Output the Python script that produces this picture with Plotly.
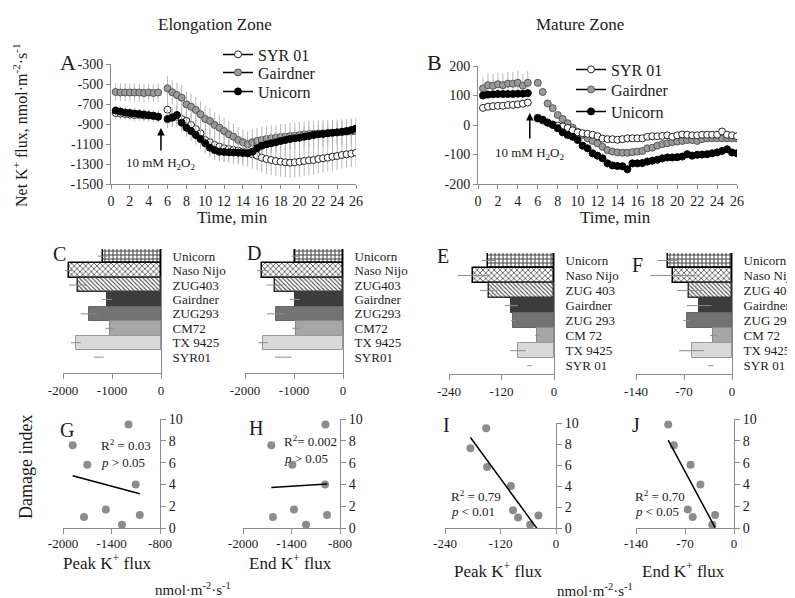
import plotly.graph_objects as go
import numpy as np

# window 795x598; the page body has an 8 px margin, so the figure is 787x590 offset by 8 px
OFF = 8
FW, FH = 795 - OFF, 598 - OFF
FONT = "Liberation Serif"
AX = "#8c8c8c"
TXT = "#1a1a1a"

# ---------------- time-course data (panels A, B) ----------------
time_min = [0.5, 1.0, 1.5, 2.0, 2.5, 3.0, 3.5, 4.0, 4.5, 5.0,
            6.0, 6.5, 7.0, 7.5, 8.0, 8.5, 9.0, 9.5, 10.0, 10.5,
            11.0, 11.5, 12.0, 12.5, 13.0, 13.5, 14.0, 14.5, 15.0, 15.5,
            16.0, 16.5, 17.0, 17.5, 18.0, 18.5, 19.0, 19.5, 20.0, 20.5,
            21.0, 21.5, 22.0, 22.5, 23.0, 23.5, 24.0, 24.5, 25.0, 25.5, 26.0]

ez_syr01 = [-790, -795, -800, -805, -810, -810, -815, -815, -820, -825,
            -757, -830, -827, -850, -870, -910, -950, -993, -1060, -1083,
            -1110, -1127, -1143, -1150, -1160, -1167, -1177, -1183, -1203, -1217,
            -1237, -1250, -1260, -1270, -1277, -1283, -1287, -1283, -1277, -1270,
            -1263, -1260, -1250, -1243, -1237, -1227, -1220, -1210, -1203, -1197, -1187]
ez_syr01_err = [60, 60, 60, 60, 60, 60, 60, 60, 60, 60,
                100, 100, 100, 105, 105, 110, 110, 115, 120, 125,
                130, 130, 135, 135, 140, 140, 140, 145, 145, 145,
                150, 150, 150, 150, 150, 150, 150, 150, 150, 150,
                150, 145, 145, 145, 140, 140, 140, 135, 135, 135, 130]
ez_gairdner = [-580, -585, -585, -585, -585, -585, -590, -585, -590, -585,
               -543, -583, -610, -637, -703, -727, -760, -803, -850, -870,
               -910, -937, -970, -1003, -1027, -1060, -1083, -1103, -1083, -1070,
               -1060, -1050, -1043, -1037, -1030, -1027, -1020, -1017, -1010, -1003,
               -1000, -998, -995, -993, -990, -988, -985, -982, -978, -975, -972]
ez_gairdner_err = [90, 90, 90, 90, 90, 90, 90, 90, 90, 90,
                   120, 120, 125, 125, 125, 130, 130, 130, 130, 130,
                   130, 130, 130, 130, 130, 130, 130, 130, 130, 130,
                   130, 130, 130, 130, 130, 130, 130, 130, 130, 130,
                   130, 130, 130, 130, 130, 130, 130, 130, 130, 130, 130]
ez_unicorn = [-765, -775, -785, -790, -795, -800, -805, -812, -818, -828,
              -850, -837, -810, -887, -937, -970, -1010, -1050, -1093, -1137,
              -1160, -1177, -1180, -1183, -1185, -1187, -1190, -1193, -1177, -1143,
              -1117, -1103, -1093, -1083, -1070, -1060, -1050, -1043, -1037, -1027,
              -1020, -1010, -1003, -1000, -993, -987, -983, -977, -970, -960, -945]
ez_unicorn_err = [50, 50, 50, 50, 50, 50, 50, 50, 50, 50,
                  90, 90, 90, 95, 95, 100, 100, 100, 100, 100,
                  100, 100, 100, 100, 100, 100, 100, 100, 100, 100,
                  100, 100, 100, 100, 100, 100, 100, 100, 100, 100,
                  100, 100, 100, 100, 100, 100, 100, 100, 100, 100, 100]

mz_syr01 = [58, 62, 64, 65, 65, 68, 68, 70, 72, 76,
            25, 15, 8, 2, -2, -5, -10, -18, -25, -28,
            -30, -33, -38, -46, -48, -48, -50, -48, -45, -45,
            -45, -45, -40, -38, -38, -37, -35, -40, -35, -32,
            -33, -35, -35, -33, -33, -33, -33, -22, -33, -35, -38]
mz_syr01_err = [8, 8, 8, 8, 8, 8, 8, 8, 8, 8,
                8, 8, 8, 8, 8, 8, 8, 8, 8, 8,
                8, 8, 8, 8, 8, 8, 8, 8, 8, 8,
                8, 8, 8, 8, 8, 8, 8, 8, 8, 8,
                8, 8, 8, 8, 8, 8, 8, 8, 8, 8, 8]
mz_gairdner = [124, 135, 133, 138, 135, 140, 140, 143, 133, 143,
               143, 112, 73, 57, 34, 20, 6, -9, -23, -34,
               -45, -54, -62, -74, -85, -90, -93, -94, -94, -92,
               -90, -88, -79, -77, -70, -65, -62, -58, -56, -54,
               -51, -51, -54, -48, -45, -45, -45, -45, -45, -45, -46]
mz_gairdner_err = [38, 40, 40, 40, 40, 40, 40, 40, 40, 40,
                   12, 12, 10, 10, 10, 10, 10, 10, 10, 10,
                   10, 10, 10, 10, 10, 10, 10, 10, 10, 10,
                   10, 10, 10, 10, 10, 10, 10, 10, 10, 10,
                   10, 10, 10, 10, 10, 10, 10, 10, 10, 10, 10]
mz_unicorn = [100, 103, 104, 105, 105, 105, 105, 106, 106, 108,
              22, 18, 8, 0, -11, -25, -34, -40, -51, -70,
              -79, -96, -104, -113, -130, -137, -139, -140, -150, -130,
              -130, -129, -124, -121, -118, -113, -110, -110, -109, -107,
              -99, -104, -101, -100, -99, -96, -93, -88, -82, -93, -96]
mz_unicorn_err = [10, 10, 10, 10, 10, 10, 10, 10, 10, 10,
                  12, 12, 12, 12, 12, 12, 12, 12, 12, 12,
                  15, 15, 15, 15, 15, 15, 15, 15, 15, 15,
                  15, 15, 15, 15, 15, 15, 15, 15, 15, 15,
                  15, 15, 15, 15, 15, 15, 15, 15, 15, 15, 15]

h2o2_time_a = 5.3
h2o2_time_b = 5.2

# ---------------- genotype summary data (panels C-J) ----------------
genotypes_ez = ["Unicorn", "Naso Nijo", "ZUG403", "Gairdner", "ZUG293", "CM72", "TX 9425", "SYR01"]
genotypes_mz = ["Unicorn", "Naso Nijo", "ZUG 403", "Gairdner", "ZUG 293", "CM 72", "TX 9425", "SYR 01"]

peak_ez = [-1190, -1880, -1700, -1100, -1470, -1050, -1740, -1270]
peak_ez_err = [100, 80, 180, 100, 170, 85, 100, 100]
end_ez = [-980, -1650, -1390, -985, -1370, -960, -1630, -1220]
end_ez_err = [70, 100, 170, 100, 180, 75, 100, 170]
peak_mz = [-151, -185, -149, -97.5, -93, -38, -82, -56]
peak_mz_err = [14, 35, 20, 15, 5, 5, 18, 5]
end_mz = [-94, -86, -62, -48, -66, -27, -59, -31]
end_mz_err = [15, 33, 18, 18, 5, 5, 18, 4]
damage_index = [9.5, 7.6, 5.8, 4.0, 1.7, 1.2, 1.0, 0.3]

# tick labels
ticks_a = [-1500, -1300, -1100, -900, -700, -500, -300]
ticks_b = [-200, -100, 0, 100, 200]
ticks_time = [0, 2, 4, 6, 8, 10, 12, 14, 16, 18, 20, 22, 24, 26]
ticks_ez = [-2000, -1000, 0]
ticks_ez_sc = [-2000, -1400, -800]
ticks_peak_mz = [-240, -120, 0]
ticks_end_mz = [-140, -70, 0]
ticks_damage = [0, 2, 4, 6, 8, 10]


def lbl(v):
    return [str(t) for t in v]  # plain hyphen minus


def px(x):
    return (x - OFF) / FW


def py(y):
    return 1 - (y - OFF) / FH


def xd(a, b):
    return [px(a), px(b)]


def yd(top, bot):
    return [py(bot), py(top)]


def ax(**kw):
    base = dict(showline=True, linecolor=AX, linewidth=1, ticks="outside", ticklen=4,
                tickcolor=AX, tickwidth=1, showgrid=False, zeroline=False,
                tickfont=dict(family=FONT, size=14, color=TXT), fixedrange=True)
    base.update(kw)
    return base


fig = go.Figure()

series_style = {
    "SYR 01": dict(color="white", line=dict(color="#222", width=1)),
    "Gairdner": dict(color="#9a9a9a", line=dict(color="#555", width=1)),
    "Unicorn": dict(color="black", line=dict(color="black", width=1)),
}

# Panel A
for name, ys, es in [("SYR 01", ez_syr01, ez_syr01_err),
                     ("Gairdner", ez_gairdner, ez_gairdner_err),
                     ("Unicorn", ez_unicorn, ez_unicorn_err)]:
    fig.add_trace(go.Scatter(x=time_min, y=ys, mode="markers",
                             marker=dict(size=7, **series_style[name]),
                             error_y=dict(type="data", array=es, color="#b8b8b8", thickness=1, width=0),
                             xaxis="x", yaxis="y", showlegend=False))
# Panel B
for name, ys, es in [("Gairdner", mz_gairdner, mz_gairdner_err),
                     ("SYR 01", mz_syr01, mz_syr01_err),
                     ("Unicorn", mz_unicorn, mz_unicorn_err)]:
    fig.add_trace(go.Scatter(x=time_min, y=ys, mode="markers",
                             marker=dict(size=7, **series_style[name]),
                             error_y=dict(type="data", array=es, color="#b8b8b8", thickness=1, width=0),
                             xaxis="x2", yaxis="y2", showlegend=False))

# legend entries: one legend box per entry so the row spacing matches the reference
legend_names = ["SYR 01", "Gairdner", "Unicorn"]
legend_ids_a = ["legend", "legend2", "legend3"]
legend_ids_b = ["legend4", "legend5", "legend6"]
for ids in (legend_ids_a, legend_ids_b):
    for lg, name in zip(ids, legend_names):
        fig.add_trace(go.Scatter(x=[None], y=[None], mode="lines+markers", name=name,
                                 line=dict(color="black", width=1.5),
                                 marker=dict(size=7, **series_style[name]),
                                 xaxis="x", yaxis="y", legend=lg, showlegend=True))

# Bars C-F
bar_fill = ["white", "white", "white", "#3c3c3c", "#737373", "#a6a6a6", "#d9d9d9", "white"]
bar_line = ["black", "black", "#333", "#3c3c3c", "#666", "#888", "#999", "white"]
bar_lw = [1.5, 1.5, 1.5, 1, 1, 1, 1, 0]
pat_shape = ["+", "x", "\\", "", "", "", "", ""]
pat_fg = ["black", "#808080", "#909090", "#3c3c3c", "#737373", "#a6a6a6", "#d9d9d9", "white"]
pat_size = [4, 4, 3, 4, 4, 4, 4, 4]
pat_sol = [0.45, 0.35, 0.35, 0.3, 0.3, 0.3, 0.3, 0.3]

bar_sets = [(peak_ez, peak_ez_err, genotypes_ez, "x3", "y3"),
            (end_ez, end_ez_err, genotypes_ez, "x4", "y4"),
            (peak_mz, peak_mz_err, genotypes_mz, "x5", "y5"),
            (end_mz, end_mz_err, genotypes_mz, "x6", "y6")]
for vals, errs, cats, xa, ya in bar_sets:
    fig.add_trace(go.Bar(x=vals, y=cats, orientation="h", width=1,
                         marker=dict(color=bar_fill, line=dict(color=bar_line, width=bar_lw),
                                     pattern=dict(shape=pat_shape, fgcolor=pat_fg, fgopacity=1,
                                                  size=pat_size, solidity=pat_sol, fillmode="overlay")),
                         error_x=dict(type="data", array=errs, color="#8c8c8c", thickness=1, width=0),
                         xaxis=xa, yaxis=ya, showlegend=False))

# Scatter G-J
sc_sets = [(peak_ez, "x7", "y7"), (end_ez, "x8", "y8"), (peak_mz, "x9", "y9"), (end_mz, "x10", "y10")]
for xs, xa, ya in sc_sets:
    xs_arr = np.array(xs, dtype=float)
    ys_arr = np.array(damage_index, dtype=float)
    slope, icpt = np.polyfit(xs_arr, ys_arr, 1)
    xl = np.array([xs_arr.min(), xs_arr.max()])
    fig.add_trace(go.Scatter(x=xs, y=damage_index, mode="markers",
                             marker=dict(size=8, color="#8c8c8c"),
                             xaxis=xa, yaxis=ya, showlegend=False, cliponaxis=False))
    fig.add_trace(go.Scatter(x=xl, y=slope * xl + icpt, mode="lines",
                             line=dict(color="black", width=1.5),
                             xaxis=xa, yaxis=ya, showlegend=False))

layout_axes = {}
# A
layout_axes["xaxis"] = ax(domain=xd(111, 356), range=[0, 26], tickvals=ticks_time, anchor="y")
layout_axes["yaxis"] = ax(domain=yd(64, 184), range=[-1500, -300], tickvals=ticks_a,
                          ticktext=lbl(ticks_a), anchor="x")
# B
layout_axes["xaxis2"] = ax(domain=xd(478, 737), range=[0, 26], tickvals=ticks_time, anchor="y2")
layout_axes["yaxis2"] = ax(domain=yd(66, 184), range=[-200, 200], tickvals=ticks_b,
                           ticktext=lbl(ticks_b), anchor="x2")
# C-F
bar_geo = [("3", (63, 161), (249, 373), [-2000, 0], ticks_ez, [-1.1, 7.5]),
           ("4", (245, 343), (249, 373), [-2000, 0], ticks_ez, [-1.1, 7.5]),
           ("5", (449, 554), (253, 374), [-240, 0], ticks_peak_mz, [-0.55, 7.5]),
           ("6", (636, 732), (253, 374), [-140, 0], ticks_end_mz, [-0.55, 7.5])]
for i, (n, xdom, ydom, xr, tv, yr) in enumerate(bar_geo):
    cats = genotypes_ez if i < 2 else genotypes_mz
    layout_axes["xaxis" + n] = ax(domain=xd(*xdom), range=xr, tickvals=tv, ticktext=lbl(tv),
                                  anchor="y" + n, ticklen=5, tickfont=dict(family=FONT, size=13, color=TXT))
    layout_axes["yaxis" + n] = ax(domain=yd(*ydom), range=yr, type="category",
                                  categoryorder="array", categoryarray=cats[::-1],
                                  tickmode="array", tickvals=cats, ticktext=cats,
                                  side="right", ticks="", anchor="x" + n, ticklabelstandoff=8,
                                  tickfont=dict(family=FONT, size=13, color=TXT))
# G-J
sc_geo = [("7", (63, 160), (419, 528), [-2000, -800], ticks_ez_sc),
          ("8", (243, 340), (419, 528), [-2000, -800], ticks_ez_sc),
          ("9", (445, 556), (423, 528), [-240, 0], ticks_peak_mz),
          ("10", (636, 734), (419, 528), [-140, 0], ticks_end_mz)]
for n, xdom, ydom, xr, tv in sc_geo:
    layout_axes["xaxis" + n] = ax(domain=xd(*xdom), range=xr, tickvals=tv, ticktext=lbl(tv),
                                  anchor="y" + n, ticklen=5, ticklabelstandoff=-2,
                                  tickfont=dict(family=FONT, size=13, color=TXT))
    layout_axes["yaxis" + n] = ax(domain=yd(*ydom), range=[0, 10], tickvals=ticks_damage,
                                  side="right", anchor="x" + n, ticklen=5,
                                  tickfont=dict(family=FONT, size=14, color=TXT))


def note(text, x, y, size=13, angle=0, xanchor="center", yanchor="middle"):
    return dict(text=text, x=px(x), y=py(y), xref="paper", yref="paper", showarrow=False,
                textangle=angle, xanchor=xanchor, yanchor=yanchor,
                font=dict(family=FONT, size=size, color=TXT))


ann = [
    note("Elongation Zone", 215, 25, 17),
    note("Mature Zone", 580, 25, 17),
    note("A", 68, 62, 22), note("B", 434, 62, 22),
    note("Net K<sup>+</sup> flux, nmol·m<sup>-2</sup>·s<sup>-1</sup>", 20, 125, 16, angle=-90),
    note("Time, min", 233, 218, 17), note("Time, min", 615, 218, 17),
    note("C", 59, 254, 20), note("D", 254, 253, 20), note("E", 443, 256, 20), note("F", 637, 265, 20),
    note("G", 67, 430, 20), note("H", 256, 428, 20), note("I", 446, 425, 20), note("J", 636, 425, 20),
    note("Damage index", 26, 467, 18, angle=-90),
    note("Peak K<sup>+</sup> flux", 107, 562, 17), note("End K<sup>+</sup> flux", 290, 562, 17),
    note("Peak K<sup>+</sup> flux", 498, 570, 17), note("End K<sup>+</sup> flux", 683, 570, 17),
    note("nmol·m<sup>-2</sup>·s<sup>-1</sup>", 193, 589, 15),
    note("nmol·m<sup>-2</sup>·s<sup>-1</sup>", 595, 590, 15),
    note("R<sup>2</sup> = 0.03", 99, 445, 13, xanchor="left"),
    note("<i>p</i> > 0.05", 99, 462, 13, xanchor="left"),
    note("R<sup>2</sup>= 0.002", 282, 441, 13, xanchor="left"),
    note("<i>p</i> > 0.05", 282, 458, 13, xanchor="left"),
    note("R<sup>2</sup> = 0.79", 449, 496, 13, xanchor="left"),
    note("<i>p</i> < 0.01", 449, 511, 13, xanchor="left"),
    note("R<sup>2</sup> = 0.70", 633, 496, 13, xanchor="left"),
    note("<i>p</i> < 0.05", 633, 511, 13, xanchor="left"),
]
# H2O2 arrows
ann.append(dict(x=h2o2_time_a, y=-940, ax=h2o2_time_a, ay=-1180, xref="x", yref="y", axref="x", ayref="y",
                showarrow=True, arrowhead=2, arrowsize=1, arrowwidth=1.5, arrowcolor="black", text=""))
ann.append(dict(x=h2o2_time_a, y=-1290, xref="x", yref="y", showarrow=False,
                text="10 mM H<sub>2</sub>O<sub>2</sub>", font=dict(family=FONT, size=13, color=TXT)))
ann.append(dict(x=h2o2_time_b, y=41, ax=h2o2_time_b, ay=-51, xref="x2", yref="y2", axref="x2", ayref="y2",
                showarrow=True, arrowhead=2, arrowsize=1, arrowwidth=1.5, arrowcolor="black", text=""))
ann.append(dict(x=h2o2_time_b, y=-95, xref="x2", yref="y2", showarrow=False,
                text="10 mM H<sub>2</sub>O<sub>2</sub>", font=dict(family=FONT, size=13, color=TXT)))

leg_common = dict(xanchor="left", yanchor="top", bgcolor="rgba(0,0,0,0)",
                  font=dict(family=FONT, size=16, color=TXT), itemwidth=30, tracegroupgap=0,
                  borderwidth=0)
legend_rows_a = [55, 73, 92]      # pixel centres of the legend rows (panel A)
legend_rows_b = [70, 90, 112]     # pixel centres of the legend rows (panel B)
legends = {}
for lg, yc in zip(legend_ids_a, legend_rows_a):
    legends[lg] = dict(x=px(218), y=py(yc - 17.5), **leg_common)
for lg, yc in zip(legend_ids_b, legend_rows_b):
    legends[lg] = dict(x=px(571), y=py(yc - 17.5), **leg_common)

fig.update_layout(
    width=FW, height=FH, margin=dict(l=0, r=0, t=0, b=0, autoexpand=False),
    paper_bgcolor="white", plot_bgcolor="white",
    font=dict(family=FONT, color=TXT),
    annotations=ann,
    bargap=0,
    **legends,
    **layout_axes,
)

fig.write_html("out.html")
